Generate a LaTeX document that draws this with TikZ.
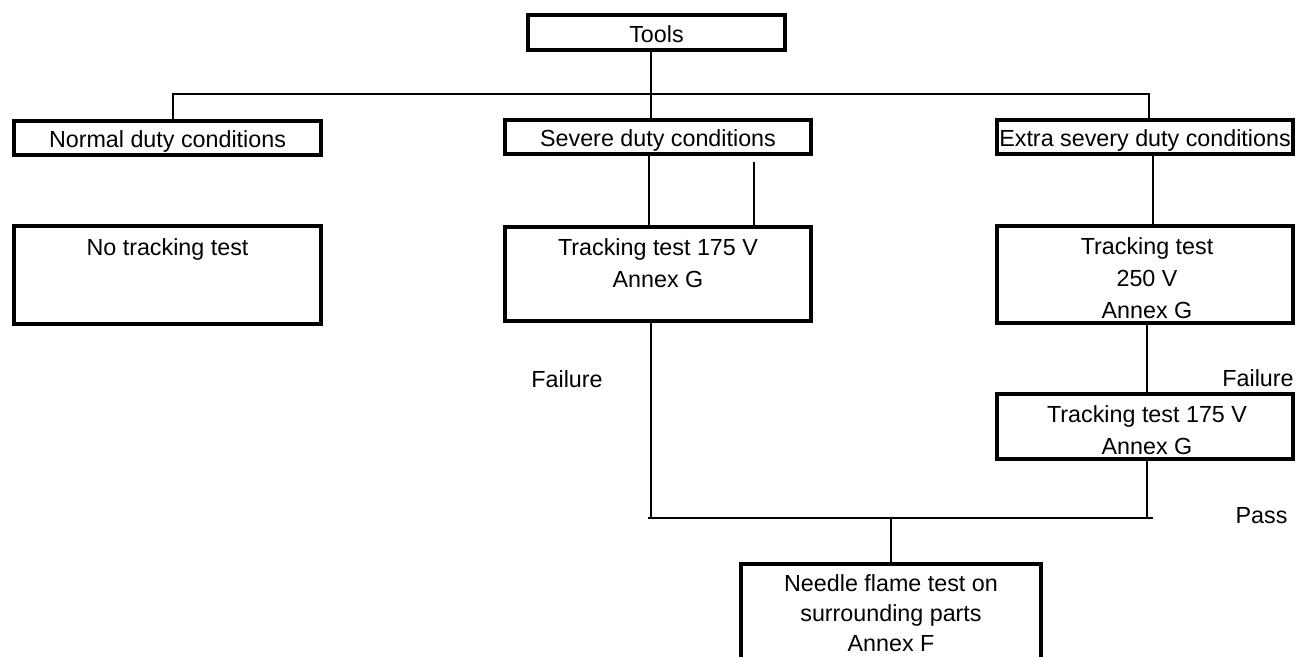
\documentclass[tikz,border=0pt]{standalone}
\usepackage{fontspec}
\setmainfont{Liberation Sans}

\begin{document}
\begin{tikzpicture}[
    x=0.5pt, y=-0.5pt,
    every node/.style={font=\fontsize{11.65pt}{16pt}\selectfont},
    box/.style={draw, line width=2pt, inner xsep=1pt, inner ysep=0pt, text height=1.1em, text depth=0.1em},
    txt/.style={align=center, inner sep=0pt, anchor=north},
    link/.style={line width=0.7pt}
]
    \useasboundingbox (0,0) rectangle (1299,657);

    % Boxes
    \node (tools) [box, minimum width=128.5pt, minimum height=17.5pt] at (656.5,32.5) {Tools};
    \node (normal) [box, minimum width=153.5pt, minimum height=17pt] at (167.5,138) {Normal duty conditions};
    \node (severe) [box, minimum width=153pt, minimum height=17pt] at (658,137) {Severe duty conditions};
    \node (extra) [box, minimum width=148pt, minimum height=17pt] at (1145,137) {Extra severy duty conditions};

    \node (notrack) [box, minimum width=153.5pt, minimum height=49pt] at (167.5,275) {};
    \node (track1) [box, minimum width=153pt, minimum height=47pt] at (658,274) {};
    \node (track2) [box, minimum width=148pt, minimum height=48.5pt] at (1145,274.5) {};
    \node (track3) [box, minimum width=148pt, minimum height=32.5pt] at (1145,426.5) {};
    \node (needle) [box, minimum width=150pt, minimum height=57pt] at (891,621) {};

    % Box texts
    \node (notrackT) [txt] at (167.5,238) {No tracking test};
    \node (track1T) [txt] at (658,238) {Tracking test 175 V\\Annex G};
    \node (track2T) [txt] at (1147,237) {Tracking test\\250 V\\Annex G};
    \node (track3T) [txt] at (1147,405) {Tracking test 175 V\\Annex G};
    \node (needleT) [txt, font=\fontsize{11.65pt}{15pt}\selectfont] at (891,574) {Needle flame test on\\surrounding parts\\Annex F};

    % Labels
    \node (fail1) at (567,379) {Failure};
    \node (fail2) [anchor=east, inner sep=0pt] at (1294,378) {Failure};
    \node (pass) at (1261.5,516) {Pass};

    % Paths
    \coordinate (busL) at (173,94);
    \coordinate (busR) at (1149,94);
    \coordinate (trunk) at (651,94);
    \coordinate (footL) at (651,518);
    \coordinate (footR) at (1147,518);
    \coordinate (join) at (891,518);

    \draw [link] (normal.north -| busL) -- (busL) -- (busR) -- (extra.north -| busR);
    \draw [link] (tools.south -| trunk) -- (severe.north -| trunk);
    \draw [link] ([xshift=-4.5pt]severe.south) -- ([xshift=-4.5pt]track1.north);
    \draw [link] ([xshift=48pt,yshift=-3pt]severe.south) -- ([xshift=48pt,yshift=-2pt]track1.north);
    \draw [link] ([xshift=4pt]extra.south) -- ([xshift=4pt]track2.north);
    \draw [link] ([xshift=1pt]track2.south) -- ([xshift=1pt]track3.north);
    \draw [link] (track1.south -| footL) -- (footL);
    \draw [link] (track3.south -| footR) -- (footR);
    \draw [link] ([xshift=-1.5pt]footL) -- ([xshift=3pt]footR);
    \draw [link] (join) -- (needle.north);
\end{tikzpicture}
\end{document}
